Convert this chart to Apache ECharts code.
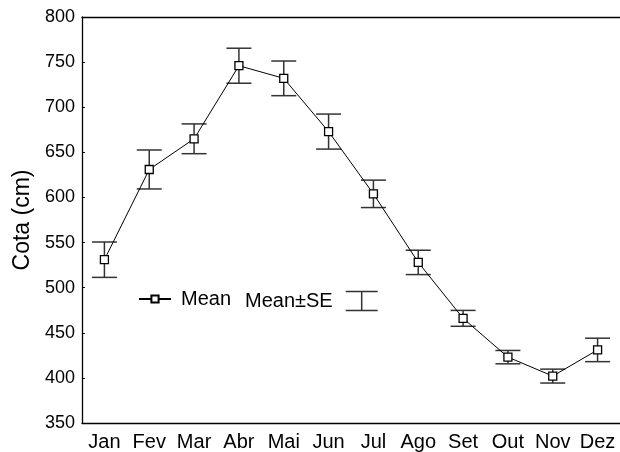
<!DOCTYPE html>
<html>
<head>
<meta charset="utf-8">
<script src="https://cdn.jsdelivr.net/npm/echarts@6/dist/echarts.min.js"></script>
<style>html,body{margin:0;padding:0;background:#fff}#c{width:620px;height:452px}</style>
</head>
<body>
<div id="c"></div>
<script>
var months = ['Jan','Fev','Mar','Abr','Mai','Jun','Jul','Ago','Set','Out','Nov','Dez'];
var meanValues = [531, 631, 665, 746, 732, 673, 604, 528, 466, 423, 402, 431];
var seValues = [19.6, 21.6, 16.5, 19.4, 19.2, 19.4, 15.2, 13.5, 8.8, 7.4, 7.7, 13];
var yTicks = [350, 400, 450, 500, 550, 600, 650, 700, 750, 800];

var FONT = '"Liberation Sans", Arial, sans-serif';
var errData = meanValues.map(function (m, i) { return [i, m - seValues[i], m + seValues[i]]; });
var errIcon = 'path://M0,0 L32,0 M16,0 L16,19 M0,19 L32,19';

var chart = echarts.init(document.getElementById('c'), null, {renderer: 'canvas'});
chart.setOption({
  animation: false,
  backgroundColor: '#fff',
  textStyle: {fontFamily: FONT},
  grid: {left: 82, top: 17, bottom: 29, right: -9, containLabel: false},
  legend: [{
    data: [{name: 'Mean'}],
    left: 133, top: 284,
    itemWidth: 32, itemHeight: 9,
    textStyle: {fontFamily: FONT, fontSize: 20, lineHeight: 20, color: '#000', padding: [0, 0, 0, 5]},
    selectedMode: false
  }, {
    data: [{name: 'Mean±SE', icon: errIcon}],
    left: 240, top: 284,
    align: 'right',
    itemWidth: 32, itemHeight: 19,
    itemStyle: {color: 'none', borderColor: '#333', borderWidth: 1.5},
    textStyle: {fontFamily: FONT, fontSize: 20, lineHeight: 20, color: '#000', padding: [0, 8, 0, 0]},
    selectedMode: false
  }],
  xAxis: [{
    type: 'category', data: months, position: 'bottom', boundaryGap: true,
    axisLine: {lineStyle: {color: '#000', width: 1.3}},
    axisTick: {inside: true, length: 3, alignWithLabel: true, lineStyle: {color: '#000'}},
    axisLabel: {fontFamily: FONT, fontSize: 20, color: '#000', margin: 9, interval: 0}
  }, {
    type: 'category', data: months, position: 'top', boundaryGap: true,
    axisLine: {show: true, lineStyle: {color: '#000', width: 1.3}},
    axisTick: {inside: true, length: 3, alignWithLabel: true, lineStyle: {color: '#000'}},
    axisLabel: {show: false}
  }],
  yAxis: {
    type: 'value', min: yTicks[0], max: yTicks[yTicks.length - 1], interval: 50,
    name: 'Cota (cm)', nameLocation: 'middle', nameGap: 46, nameRotate: 90,
    nameTextStyle: {fontFamily: FONT, fontSize: 23, color: '#000'},
    axisLine: {show: true, lineStyle: {color: '#000', width: 1.3}},
    axisTick: {show: true, inside: true, length: 3, lineStyle: {color: '#000'}},
    axisLabel: {fontFamily: FONT, fontSize: 18, color: '#000', margin: 7},
    splitLine: {show: false}
  },
  series: [{
    name: 'Mean±SE',
    type: 'custom',
    z: 1,
    data: errData,
    itemStyle: {color: '#333'},
    renderItem: function (params, api) {
      var x = api.value(0);
      var lo = api.coord([x, api.value(1)]);
      var hi = api.coord([x, api.value(2)]);
      var hw = 12.5;
      var st = {stroke: '#333', lineWidth: 1.5, fill: 'none'};
      return {type: 'group', children: [
        {type: 'line', shape: {x1: hi[0], y1: hi[1], x2: lo[0], y2: lo[1]}, style: st},
        {type: 'line', shape: {x1: hi[0] - hw, y1: hi[1], x2: hi[0] + hw, y2: hi[1]}, style: st},
        {type: 'line', shape: {x1: lo[0] - hw, y1: lo[1], x2: lo[0] + hw, y2: lo[1]}, style: st}
      ]};
    }
  }, {
    name: 'Mean',
    type: 'line',
    z: 3,
    data: meanValues,
    symbol: 'rect', symbolSize: 8,
    lineStyle: {color: '#000', width: 1},
    itemStyle: {color: '#fff', borderColor: '#000', borderWidth: 1.3}
  }]
});
</script>
</body>
</html>
